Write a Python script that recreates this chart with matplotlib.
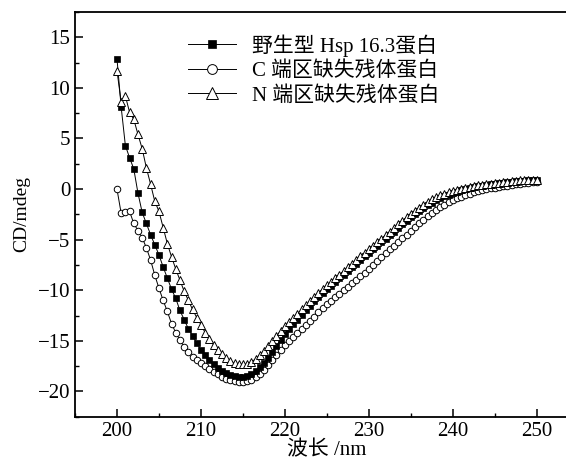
import numpy as np
import matplotlib
matplotlib.use("Agg")
from matplotlib import pyplot as plt
from matplotlib.ticker import MultipleLocator

plt.rcParams['font.family'] = ['Liberation Serif', 'Noto Sans CJK SC', 'DejaVu Sans']
plt.rcParams['axes.unicode_minus'] = True

# wavelength grid, 200 - 250 nm every 0.5 nm
wl = np.arange(200, 250.01, 0.5)

# wild type Hsp16.3 (filled squares)
cd_wt = [
    12.9, 8.1, 4.3, 3.1, 2.0, -0.4, -2.3, -3.4, -4.5, -5.5,
    -6.5, -7.7, -8.8, -9.9, -10.8, -12.0, -12.9, -13.8, -14.5, -15.2,
    -15.9, -16.4, -16.9, -17.3, -17.7, -18.0, -18.2, -18.4, -18.5, -18.6,
    -18.6, -18.5, -18.3, -18.0, -17.6, -17.2, -16.7, -16.1, -15.5, -14.9,
    -14.3, -13.8, -13.3, -12.9, -12.4, -12.0, -11.6, -11.1, -10.7, -10.3,
    -9.9, -9.55, -9.2, -8.8, -8.45, -8.1, -7.75, -7.4, -7.0, -6.65,
    -6.3, -5.95, -5.6, -5.25, -4.9, -4.55, -4.2, -3.85, -3.5, -3.15,
    -2.8, -2.5, -2.2, -1.9, -1.6, -1.35, -1.1, -0.9, -0.7, -0.55,
    -0.4, -0.25, -0.1, 0.0, 0.1, 0.2, 0.28, 0.35, 0.42, 0.48,
    0.54, 0.6, 0.65, 0.7, 0.74, 0.78, 0.81, 0.84, 0.87, 0.89,
    0.9]

# C-terminal deletion (open circles)
cd_c = [
    0.0, -2.4, -2.3, -2.2, -3.4, -4.1, -4.8, -5.8, -7.0, -8.5,
    -9.8, -11.0, -12.1, -13.3, -14.2, -14.9, -15.6, -16.1, -16.6, -16.9,
    -17.2, -17.5, -17.8, -18.1, -18.3, -18.6, -18.8, -18.9, -19.0, -19.1,
    -19.1, -19.0, -18.9, -18.6, -18.3, -17.9, -17.4, -16.9, -16.4, -15.9,
    -15.4, -15.0, -14.6, -14.2, -13.8, -13.4, -13.0, -12.6, -12.2, -11.8,
    -11.4, -11.05, -10.7, -10.35, -10.0, -9.65, -9.3, -8.95, -8.6, -8.25,
    -7.9, -7.5, -7.1, -6.7, -6.3, -5.95, -5.6, -5.2, -4.85, -4.5,
    -4.1, -3.75, -3.4, -3.05, -2.7, -2.4, -2.1, -1.8, -1.55, -1.3,
    -1.1, -0.9, -0.75, -0.6, -0.45, -0.32, -0.2, -0.1, 0.0, 0.08,
    0.15, 0.22, 0.28, 0.34, 0.4, 0.46, 0.52, 0.58, 0.63, 0.68,
    0.72]

# N-terminal deletion (open triangles)
cd_n = [
    11.7, 8.6, 9.2, 7.6, 6.9, 5.4, 4.0, 2.1, 0.5, -1.2,
    -2.2, -3.8, -5.4, -6.7, -7.9, -9.0, -10.1, -11.0, -11.9, -12.7,
    -13.4, -14.2, -14.8, -15.4, -15.9, -16.3, -16.7, -17.0, -17.2, -17.3,
    -17.3, -17.3, -17.1, -16.8, -16.4, -16.0, -15.5, -15.0, -14.5, -14.0,
    -13.5, -13.1, -12.7, -12.3, -11.9, -11.5, -11.1, -10.7, -10.3, -9.9,
    -9.5, -9.15, -8.8, -8.45, -8.1, -7.75, -7.4, -7.0, -6.65, -6.3,
    -5.95, -5.6, -5.25, -4.9, -4.55, -4.2, -3.85, -3.5, -3.15, -2.8,
    -2.45, -2.15, -1.85, -1.55, -1.25, -1.0, -0.8, -0.6, -0.45, -0.3,
    -0.18, -0.05, 0.05, 0.15, 0.23, 0.3, 0.37, 0.43, 0.5, 0.55,
    0.6, 0.65, 0.7, 0.74, 0.78, 0.82, 0.85, 0.88, 0.9, 0.92,
    0.93]

labels = ["野生型 Hsp 16.3蛋白", "C 端区缺失残体蛋白", "N 端区缺失残体蛋白"]

fig = plt.figure(figsize=(5.66, 4.63), dpi=100)
ax = fig.add_axes([0.1325, 0.1, 0.89, 0.874])

l1, = ax.plot(wl, cd_wt, '-k', lw=0.7, marker='s', ms=4.3, mfc='k', mec='k', mew=0.5, zorder=3)
l2, = ax.plot(wl, cd_c, '-k', lw=0.7, marker='o', ms=4.7, mfc='w', mec='k', mew=0.7, zorder=2)
l3, = ax.plot(wl, cd_n, '-k', lw=0.7, marker='^', ms=5.5, mfc='w', mec='k', mew=0.7, zorder=4)

ax.set_xlim(195, 255)
ax.set_ylim(-22.5, 17.5)
ax.xaxis.set_major_locator(MultipleLocator(10))
ax.xaxis.set_minor_locator(MultipleLocator(5))
ax.yaxis.set_major_locator(MultipleLocator(5))
ax.yaxis.set_minor_locator(MultipleLocator(2.5))
ax.tick_params(which='major', direction='in', length=6, width=1.1, labelsize=15)
ax.tick_params(which='minor', direction='in', length=3, width=1.0)
for s in ax.spines.values():
    s.set_linewidth(1.3)
ax.spines['right'].set_visible(False)

ax.set_xlabel("波长 /nm", fontsize=15, labelpad=0)
ax.set_ylabel("CD/mdeg", fontsize=14, labelpad=5)

leg = ax.legend([l1, l2, l3], labels, loc='upper left',
                bbox_to_anchor=(0.332, 0.926), bbox_transform=fig.transFigure,
                frameon=False, fontsize=15, handlelength=2.3, handletextpad=0.8,
                labelspacing=0.22, borderpad=0, borderaxespad=0, markerscale=1.5)

fig.savefig("out.png", dpi=100)
